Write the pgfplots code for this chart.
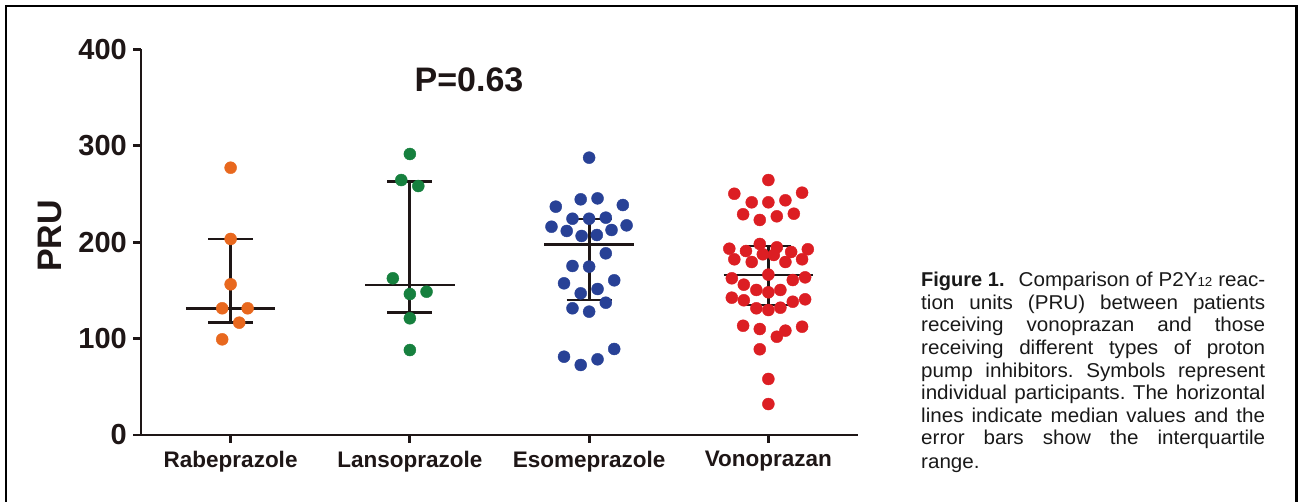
\documentclass[border=0pt]{standalone}
\usepackage{pgfplots}
\pgfplotsset{compat=1.18}
\usepackage{fontspec}
\setmainfont{Liberation Sans}
\newfontfamily\capfont[FakeStretch=1.03]{Liberation Sans}
\definecolor{ink}{RGB}{30,22,22}
\definecolor{cRab}{RGB}{232,104,30}
\definecolor{cLan}{RGB}{22,128,62}
\definecolor{cEso}{RGB}{40,65,150}
\definecolor{cVon}{RGB}{220,30,35}
\frenchspacing
\begin{document}
\begin{tikzpicture}
\useasboundingbox (0,0) rectangle (1298pt,502pt);
\draw[line width=2.5pt, black] (6pt,-5pt) -- (6pt,496pt) -- (1296.5pt,496pt) -- (1296.5pt,-5pt);
\begin{axis}[
  at={(141pt,67pt)}, anchor=south west,
  scale only axis, width=717pt, height=385.7pt,
  xmin=-0.5, xmax=3.5, ymin=0, ymax=400,
  axis x line=bottom, axis y line=left,
  axis line style={line width=2.8pt, ink, -},
  tick align=outside, major tick length=8pt,
  every tick/.style={line width=2.8pt, ink},
  xtick={0,1,2,3},
  xticklabels={Rabeprazole,Lansoprazole,Esomeprazole,Vonoprazan},
  ytick={0,100,200,300,400},
  /pgf/number format/assume math mode=true,
  yticklabel style={font=\bfseries\fontsize{29}{29}\selectfont, text=ink, inner sep=0pt, xshift=-6pt},
  xticklabel style={font=\bfseries\fontsize{22.5}{22.5}\selectfont, text=ink, inner sep=0pt, yshift=-8pt},
  ylabel={PRU},
  ylabel style={font=\bfseries\fontsize{34}{34}\selectfont, text=ink, at={(axis description cs:-0.127,0.516)}, anchor=center},
  clip=false,
  errline/.style={line width=2.8pt, ink},
]
% error bars and medians
\addplot[errline] coordinates {(-0.25,131.4) (0.25,131.4)};
\addplot[errline] coordinates {(0,116.5) (0,203.3)};
\addplot[errline] coordinates {(-0.125,116.5) (0.125,116.5)};
\addplot[errline] coordinates {(-0.125,203.3) (0.125,203.3)};
\addplot[errline] coordinates {(0.75,155.6) (1.25,155.6)};
\addplot[errline] coordinates {(1,127.2) (1,262.7)};
\addplot[errline] coordinates {(0.875,127.2) (1.125,127.2)};
\addplot[errline] coordinates {(0.875,262.7) (1.125,262.7)};
\addplot[errline] coordinates {(1.75,197.4) (2.25,197.4)};
\addplot[errline] coordinates {(2,140.0) (2,224.0)};
\addplot[errline] coordinates {(1.875,140.0) (2.125,140.0)};
\addplot[errline] coordinates {(1.875,224.0) (2.125,224.0)};
\addplot[errline] coordinates {(2.75,165.9) (3.25,165.9)};
\addplot[errline] coordinates {(3,134.8) (3,196.0)};
\addplot[errline] coordinates {(2.875,134.8) (3.125,134.8)};
\addplot[errline] coordinates {(2.875,196.0) (3.125,196.0)};
% points
\addplot[only marks, mark=*, mark size=6pt, color=cRab] coordinates {
(0,277.2) (0,203.3) (0,156.3) (-0.047,131.4) (0.095,131.4) (0.048,116.5) (-0.047,99.2)};
\addplot[only marks, mark=*, mark size=6pt, color=cLan] coordinates {
(1,291.4) (0.952,264.4) (1.047,258.2) (0.905,162.5) (1.093,148.6) (1,146.2) (1,121.0) (1,88.1)};
\addplot[only marks, mark=*, mark size=6pt, color=cEso] coordinates {
(2,287.6) (1.953,244.4) (2.047,245.4) (1.814,236.8) (2.188,238.5)
(1.907,224.3) (2,224.3) (2.093,225.4) (1.790,216.0) (2.209,217.4)
(1.875,211.6) (2.125,212.6) (1.958,206.4) (2.043,207.4) (2.093,188.4)
(1.907,175.3) (2,174.6) (1.860,157.3) (2.140,160.4) (2.047,151.4)
(1.953,146.9) (2.093,137.2) (1.907,131.4) (2,127.9) (2.140,89.2)
(1.860,81.2) (2.047,78.5) (1.953,72.6)};
\addplot[only marks, mark=*, mark size=6pt, color=cVon] coordinates {
(3,264.4) (2.810,250.2) (3.188,251.3) (2.907,241.3) (3,241.3) (3.095,243.4)
(2.859,228.9) (2.952,223.0) (3.047,226.8) (3.142,229.5)
(2.952,198.1) (3.047,194.6) (2.782,193.2) (2.875,190.8) (3.127,189.8) (3.220,192.6)
(2.969,187.4) (3.030,186.7) (2.810,182.2) (2.907,179.4) (3.095,179.4) (3.188,182.2)
(3,166.3) (2.796,162.5) (3.136,160.7) (3.205,163.5) (2.863,155.9)
(2.933,150.4) (3.067,150.4) (3,148.0)
(2.796,142.4) (2.863,139.7) (3.136,138.2) (3.205,140.7)
(2.933,131.4) (3,129.6) (3.067,132.0)
(2.859,113.3) (2.952,109.9) (3.095,108.2) (3.188,112.3) (3.047,101.9)
(2.952,88.9) (3,58.1) (3,32.1)};
\node[font=\bfseries\fontsize{34}{34}\selectfont, text=ink] at (axis cs:1.33,368) {P=0.63};
\end{axis}
% caption
\begin{scope}[every node/.style={anchor=base west, inner sep=0pt, font=\capfont\fontsize{20}{22.6}\selectfont, text=black!90}]
\node at (921pt,215.3pt) {\makebox[344pt][s]{{\normalfont\bfseries\fontsize{20}{22}\selectfont Figure 1.}\hspace{14pt}Comparison of P2Y{\fontsize{13}{13}\selectfont 12} reac-}};
\node at (921pt,192.7pt) {\makebox[344pt][s]{tion units (PRU) between patients}};
\node at (921pt,170.0pt) {\makebox[344pt][s]{receiving vonoprazan and those}};
\node at (921pt,147.7pt) {\makebox[344pt][s]{receiving different types of proton}};
\node at (921pt,124.7pt) {\makebox[344pt][s]{pump inhibitors. Symbols represent}};
\node at (921pt,102.0pt) {\makebox[344pt][s]{individual participants. The horizontal}};
\node at (921pt,79.3pt) {\makebox[344pt][s]{lines indicate median values and the}};
\node at (921pt,57.0pt) {\makebox[344pt][s]{error bars show the interquartile}};
\node at (921pt,33.7pt) {range.};
\end{scope}
\end{tikzpicture}
\end{document}
